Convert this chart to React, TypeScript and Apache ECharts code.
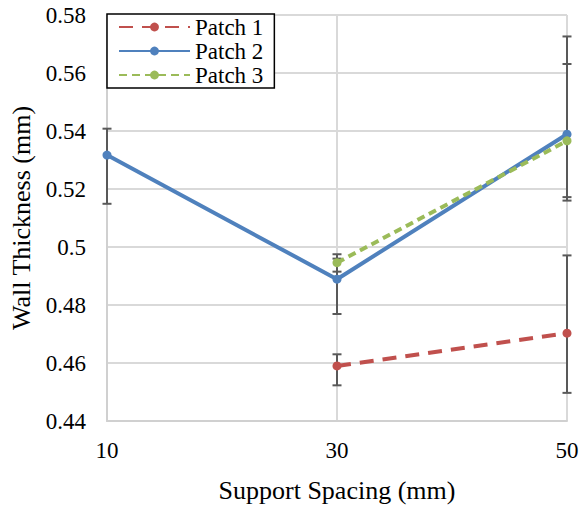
import React, { useEffect, useRef } from "react";
import * as echarts from "echarts";

// Support spacing categories (mm)
const categories = ["10", "30", "50"];

// Mean wall thickness (mm) per patch; null where not measured
const patch1 = [null, 0.459, 0.4703];
const patch2 = [0.5317, 0.4889, 0.5389];
const patch3 = [null, 0.4946, 0.5366];

// Error bar bounds (mm)
const patch1Low = [null, 0.4523, 0.4497];
const patch1High = [null, 0.463, 0.4971];
const patch2Low = [0.5149, 0.4769, 0.516];
const patch2High = [0.5408, 0.496, 0.5631];
const patch3Low = [null, 0.4915, 0.5172];
const patch3High = [null, 0.4975, 0.5726];

const yTicks = { min: 0.44, max: 0.58, step: 0.02 };

const FONT = "Liberation Serif";
const RED = "#C0504D";
const BLUE = "#4F81BD";
const GREEN = "#9BBB59";
const ERR = "#595959";

function errorData(low: (number | null)[], high: (number | null)[]) {
  const out: number[][] = [];
  low.forEach((l, i) => {
    const h = high[i];
    if (l != null && h != null) out.push([i, l, h]);
  });
  return out;
}

function errorSeries(low: (number | null)[], high: (number | null)[]) {
  return {
    type: "custom",
    z: 1,
    silent: true,
    data: errorData(low, high),
    encode: { x: 0, y: [1, 2] },
    renderItem: (_params: any, api: any) => {
      const idx = api.value(0);
      const lo = api.coord([idx, api.value(1)]);
      const hi = api.coord([idx, api.value(2)]);
      const cap = 4.5;
      const style = { stroke: ERR, lineWidth: 2 };
      return {
        type: "group",
        children: [
          { type: "line", shape: { x1: lo[0], y1: lo[1], x2: hi[0], y2: hi[1] }, style },
          { type: "line", shape: { x1: lo[0] - cap, y1: lo[1], x2: lo[0] + cap, y2: lo[1] }, style },
          { type: "line", shape: { x1: hi[0] - cap, y1: hi[1], x2: hi[0] + cap, y2: hi[1] }, style },
        ],
      };
    },
  };
}

function lineSeries(name: string, data: (number | null)[], color: string, width: number, dash: any, z: number) {
  return {
    name,
    type: "line",
    z,
    data,
    symbol: "circle",
    symbolSize: 9,
    showSymbol: true,
    connectNulls: false,
    itemStyle: { color },
    lineStyle: { color, width, type: dash },
  };
}

export default function App() {
  const ref = useRef<HTMLDivElement>(null);

  useEffect(() => {
    if (!ref.current) return;
    const chart = echarts.init(ref.current, undefined, { renderer: "svg" });
    chart.setOption({
      animation: false,
      backgroundColor: "#fff",
      textStyle: { fontFamily: FONT, color: "#000" },
      grid: { left: 107, right: 15, top: 15, bottom: 84 },
      legend: {
        data: ["Patch 1", "Patch 2", "Patch 3"],
        orient: "vertical",
        left: 107,
        top: 14,
        padding: [1, 11, 1, 11],
        itemGap: 0,
        itemWidth: 71,
        itemHeight: 11,
        borderColor: "#000",
        borderWidth: 1.5,
        backgroundColor: "#fff",
        textStyle: { fontFamily: FONT, fontSize: 23, color: "#000", lineHeight: 24 },
      },
      xAxis: {
        type: "category",
        data: categories,
        boundaryGap: false,
        name: "Support Spacing (mm)",
        nameLocation: "middle",
        nameGap: 56,
        nameTextStyle: { fontFamily: FONT, fontSize: 26, color: "#000" },
        axisLine: { lineStyle: { color: "#D0D0D0", width: 2 } },
        axisTick: { show: false },
        axisLabel: { fontFamily: FONT, fontSize: 23, color: "#000", margin: 18 },
        splitLine: { show: true, lineStyle: { color: "#D9D9D9", width: 2 } },
      },
      yAxis: {
        type: "value",
        min: yTicks.min,
        max: yTicks.max,
        interval: yTicks.step,
        name: "Wall Thickness (mm)",
        nameLocation: "middle",
        nameGap: 72,
        nameTextStyle: { fontFamily: FONT, fontSize: 26, color: "#000" },
        axisLine: { show: true, lineStyle: { color: "#D0D0D0", width: 2 } },
        axisTick: { show: false },
        axisLabel: {
          fontFamily: FONT,
          fontSize: 23,
          color: "#000",
          margin: 21,
          formatter: (v: number) => String(parseFloat(v.toFixed(2))),
        },
        splitLine: { show: true, lineStyle: { color: "#D9D9D9", width: 2 } },
      },
      series: [
        errorSeries(patch1Low, patch1High),
        errorSeries(patch2Low, patch2High),
        errorSeries(patch3Low, patch3High),
        lineSeries("Patch 1", patch1, RED, 4, [14, 9], 3),
        lineSeries("Patch 2", patch2, BLUE, 4, "solid", 4),
        lineSeries("Patch 3", patch3, GREEN, 4, [8, 5], 5),
      ],
    });
    return () => chart.dispose();
  }, []);

  return <div ref={ref} style={{ width: 582, height: 508, position: "absolute", left: 0, top: 0 }} />;
}
